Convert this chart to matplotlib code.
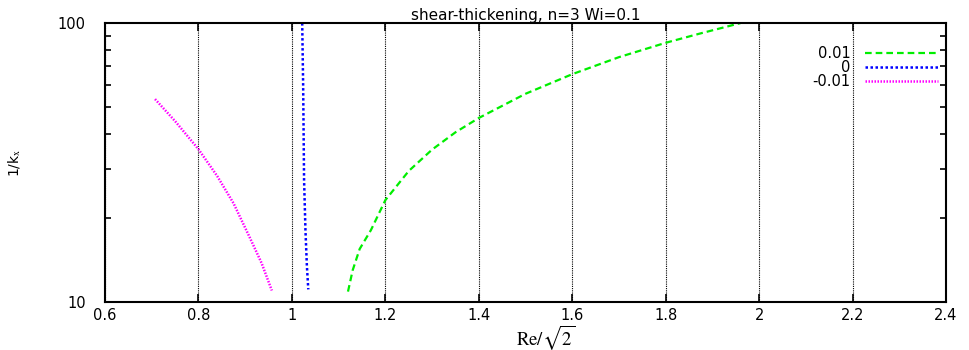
import matplotlib
matplotlib.use('Agg')
import matplotlib.pyplot as plt
from matplotlib.ticker import FixedLocator, NullFormatter

# curves of 1/k_x against Re/sqrt(2), one per value of the parameter
labels = ['0.01', '0', '-0.01']

re_pos = [1.120, 1.130, 1.145, 1.169, 1.20, 1.25, 1.30, 1.35, 1.40, 1.50, 1.60, 1.70, 1.80, 1.874, 1.96]
k_pos = [10.9, 13.0, 15.5, 18.1, 23.2, 29.5, 35.2, 40.6, 45.7, 55.8, 65.6, 75.5, 85.0, 91.8, 100.0]

re_zero = [1.022, 1.024, 1.026, 1.029, 1.032, 1.035]
k_zero = [100.0, 60.0, 27.3, 18.0, 13.5, 11.1]

re_neg = [0.707, 0.75, 0.80, 0.84, 0.875, 0.91, 0.935, 0.957]
k_neg = [53.4, 44.5, 35.3, 28.3, 22.6, 17.0, 13.8, 11.0]

plt.rcParams['font.family'] = ['DejaVu Sans']
plt.rcParams['mathtext.fontset'] = 'stix'

fig = plt.figure(figsize=(9.69, 3.5), dpi=100)
ax = fig.add_axes([0.1084, 0.137, 0.8679, 0.797])

ax.plot(re_pos, k_pos, color='#00ee00', linestyle=(0, (3, 1.8)), linewidth=1.6, label=labels[0])
ax.plot(re_zero, k_zero, color='#0000ff', linestyle=(0, (1.0, 1.0)), linewidth=1.8, label=labels[1])
ax.plot(re_neg, k_neg, color='#ff00ff', linestyle=(0, (0.6, 0.6)), linewidth=1.8, label=labels[2])

ax.set_yscale('log')
ax.set_xlim(0.6, 2.4)
ax.set_ylim(10, 100)

ax.set_xticks([0.6, 0.8, 1.0, 1.2, 1.4, 1.6, 1.8, 2.0, 2.2, 2.4])
ax.set_xticklabels(['0.6', '0.8', '1', '1.2', '1.4', '1.6', '1.8', '2', '2.2', '2.4'])
ax.yaxis.set_major_locator(FixedLocator([10, 100]))
ax.yaxis.set_minor_locator(FixedLocator([20, 30, 40, 50, 60, 70, 80, 90]))
ax.yaxis.set_minor_formatter(NullFormatter())
ax.set_yticklabels(['10', '100'])

ax.tick_params(which='both', direction='in', top=True, right=True, labelsize=10.5, width=1.2)
ax.tick_params(which='major', length=6)
ax.tick_params(axis='x', which='major', pad=4)
ax.tick_params(axis='y', which='major', pad=14)
ax.tick_params(which='minor', length=4)
for s in ax.spines.values():
    s.set_linewidth(1.5)

ax.grid(True, axis='x', which='major', color='black', linestyle=(0, (1, 1)), linewidth=0.8)

ax.set_title('shear-thickening, n=3 Wi=0.1', fontsize=11, pad=2)
ax.set_ylabel(r'1/k$_\mathrm{x}$', fontsize=10)
ax.yaxis.set_label_coords(-0.097, 0.5)
ax.set_xlabel(r'$\mathrm{Re}/\sqrt{2}$', fontsize=13.5)
ax.xaxis.set_label_coords(0.524, -0.075)

leg = ax.legend(loc='upper right', bbox_to_anchor=(0.9975, 0.94), frameon=False, fontsize=10.5,
                markerfirst=False, handlelength=5.0, handletextpad=1.0, labelspacing=-0.05,
                borderaxespad=0)
for t in leg.get_texts():
    t.set_ha('right')
leg._legend_box.align = 'right'

fig.savefig('out.png', dpi=100)
